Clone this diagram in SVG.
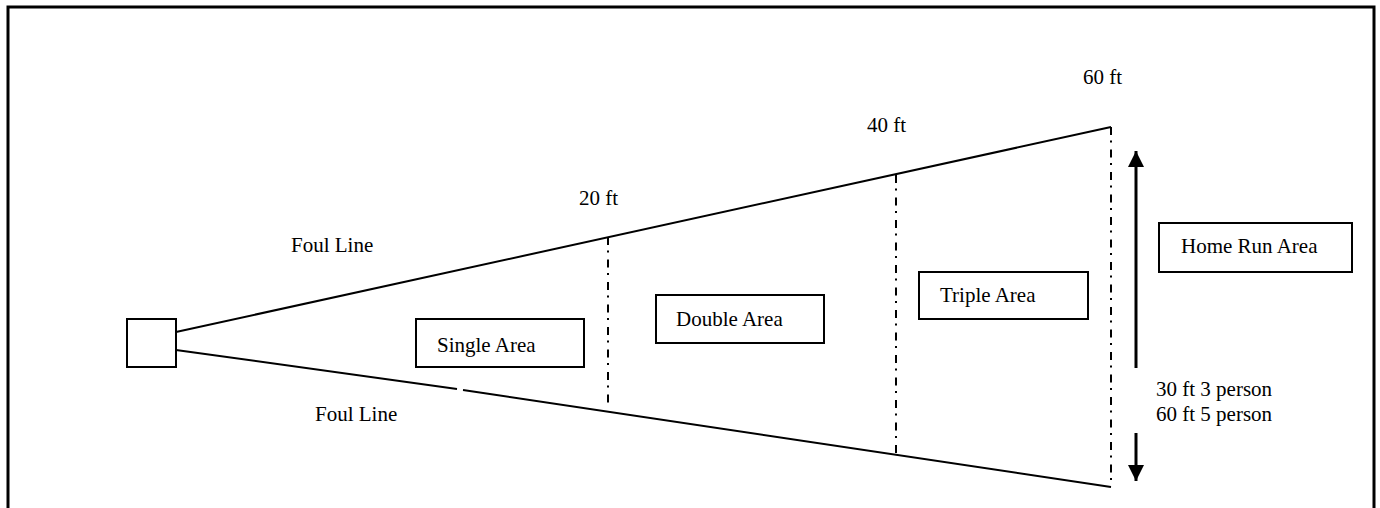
<svg xmlns="http://www.w3.org/2000/svg" width="1380" height="508" viewBox="0 0 1380 508">
<defs>
<style>
text{font-family:"Liberation Serif","Times New Roman",serif;font-size:21px;fill:#000}
.box{fill:#fff;stroke:#000;stroke-width:2}
.foul{stroke:#000;stroke-width:2;fill:none}
.div{stroke:#000;stroke-width:2;fill:none;stroke-dasharray:8 5.5 2 7}
.arr{stroke:#000;stroke-width:3;fill:none}
</style>
<marker id="ah" viewBox="0 0 10 10" refX="10" refY="5" markerWidth="16" markerHeight="16" markerUnits="userSpaceOnUse" orient="auto">
<path d="M0,0 L10,5 L0,10 Z" fill="#000"/>
</marker>
</defs>
<rect width="1380" height="508" fill="#fff"/>
<path d="M8,508 V7 H1374 V508" fill="none" stroke="#000" stroke-width="3"/>
<g id="connectors">
<line class="foul" x1="176" y1="332" x2="1111" y2="127"/>
<line class="foul" x1="176" y1="350" x2="457" y2="389"/>
<line class="foul" x1="463" y1="390" x2="1111" y2="487"/>
<line class="div" x1="608" y1="237" x2="608" y2="408"/>
<line class="div" x1="896" y1="175" x2="896" y2="457"/>
<line class="div" x1="1111" y1="127" x2="1111" y2="487"/>
<line class="arr" x1="1136" y1="368" x2="1136" y2="151" marker-end="url(#ah)"/>
<line class="arr" x1="1136" y1="433" x2="1136" y2="481" marker-end="url(#ah)"/>
</g>
<g id="home"><rect class="box" x="127" y="319" width="49" height="48"/></g>
<g id="single"><rect class="box" x="416" y="319" width="168" height="48"/><text x="437" y="352">Single Area</text></g>
<g id="double"><rect class="box" x="656" y="295" width="168" height="48"/><text x="676" y="326">Double Area</text></g>
<g id="triple"><rect class="box" x="919" y="272" width="169" height="47"/><text x="940" y="302">Triple Area</text></g>
<g id="homerun"><rect class="box" x="1159" y="223" width="193" height="49"/><text x="1181" y="253">Home Run Area</text></g>
<g id="labels">
<text x="291" y="252">Foul Line</text>
<text x="315" y="421">Foul Line</text>
<text x="579" y="205">20 ft</text>
<text x="867" y="132">40 ft</text>
<text x="1083" y="84">60 ft</text>
<text x="1156" y="396">30 ft 3 person</text>
<text x="1156" y="421">60 ft 5 person</text>
</g>
</svg>
